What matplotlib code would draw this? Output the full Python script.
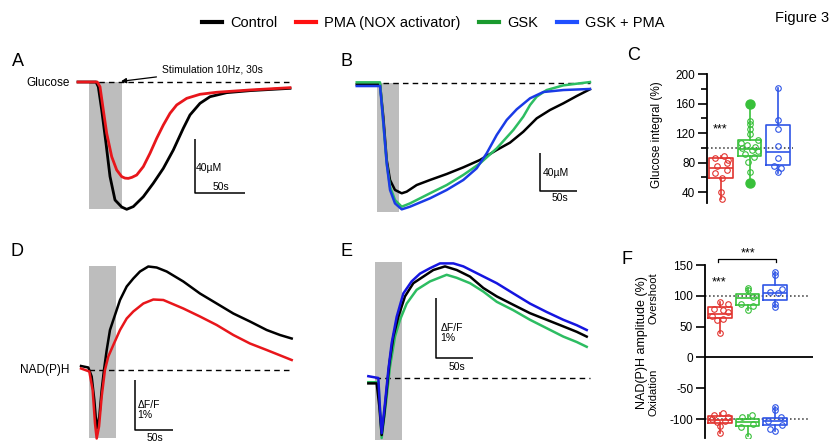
import matplotlib
matplotlib.use('Agg')
import matplotlib.pyplot as plt
from matplotlib.lines import Line2D
from matplotlib.patches import Rectangle

plt.rcParams['font.family'] = ['Liberation Sans', 'DejaVu Sans']
plt.rcParams['axes.unicode_minus'] = False

# ---- panel A: glucose traces (s, uM relative to baseline)
a_t_ctrl = [-11, 7, 9.3, 12.7, 17, 21, 26, 32.7, 37.7, 44.3, 54.3, 64.3, 74.3, 84.3, 94.3, 101, 111, 121, 137.7, 161, 201]
a_ctrl = [0, 0, -3.5, -20.7, -45.4, -70, -87.4, -92.6, -94.3, -92.3, -85, -75, -64, -50.4, -34.3, -24.4, -15.8, -10.9, -7.9, -6.4, -4.7]
a_t_pma = [-11, 8.3, 11, 14.3, 17.7, 22.7, 27.7, 32.7, 36, 39.3, 43, 47.7, 54.3, 61, 67.7, 74.3, 81, 87.7, 97.7, 111, 127.7, 161, 201]
a_pma = [0, 0, -3.5, -20.7, -38, -55.3, -65.2, -70.1, -71.2, -71.4, -70.6, -68.9, -62.7, -52.8, -41.7, -31.9, -23.2, -17, -12.1, -9.1, -7.6, -5.9, -4.2]

# ---- panel B
b_t_ctrl = [-27.4, 4.1, 8.5, 13.1, 17.6, 24.3, 33.4, 40.1, 53.6, 71.6, 94.2, 116.6, 139.2, 161.8, 179.7, 197.7, 215.8, 233.8, 251.8, 269.9, 287.8]
b_ctrl = [-1.4, -1.4, -35.5, -81, -102.1, -112.6, -116.1, -114.4, -107.4, -102.1, -95.8, -88.8, -81, -70.5, -62.8, -51.3, -37.2, -28.4, -21.4, -13.7, -6.6]
b_t_gsk = [-27.4, 4.1, 8.5, 13.1, 17.6, 24.3, 33.4, 44.6, 71.6, 94.2, 116.6, 139.2, 161.8, 184.2, 197.7, 206.8, 215.8, 229.3, 251.8, 287.8]
b_gsk = [0.7, 0.7, -42.4, -84.6, -109.1, -123.2, -130.2, -126.7, -116.1, -107.4, -96.8, -84.6, -68.8, -49.5, -35.4, -23.2, -14.4, -7.4, -2.5, 1]
b_t_both = [-27.4, 4.1, 8.5, 13.1, 17.6, 24.3, 33.4, 44.6, 71.6, 94.2, 116.6, 134.7, 148.2, 161.8, 175.3, 188.8, 206.8, 224.7, 251.8, 287.8]
b_both = [-3.2, -3.2, -40.7, -84.6, -112.6, -126.7, -133, -130.2, -121.4, -112.6, -102.1, -89.8, -74, -54.7, -38.9, -27.7, -16.1, -9.5, -7.4, -6.3]

# ---- panel D: NAD(P)H dF/F (%)
d_t_ctrl = [-10.5, -0.9, 3.5, 7, 10.1, 13.6, 16.7, 19.7, 23.3, 27.6, 34.2, 40.8, 49.6, 58.3, 67.1, 78, 89, 102.2, 124.1, 146, 168, 189.9, 211.8, 233.8, 251.3, 266.7]
d_ctrl = [0.08, 0.05, -0.13, -0.6, -1.17, -0.93, -0.4, 0, 0.4, 0.8, 1.1, 1.4, 1.67, 1.83, 1.97, 2.07, 2.05, 1.97, 1.77, 1.53, 1.33, 1.13, 0.97, 0.8, 0.7, 0.63]
d_t_pma = [-10.5, 0.4, 4.8, 7.9, 10.1, 13.2, 16.7, 21, 25.4, 32, 40.8, 49.6, 58.3, 71.5, 84.6, 97.8, 124.1, 146, 168, 189.9, 211.8, 233.8, 266.7]
d_pma = [0.03, -0.03, -0.4, -1.07, -1.37, -1.13, -0.53, 0, 0.27, 0.5, 0.8, 1.03, 1.17, 1.33, 1.41, 1.4, 1.23, 1.07, 0.9, 0.7, 0.53, 0.4, 0.2]

# ---- panel E
e_t_ctrl = [-9, 2.3, 5.9, 9, 12.2, 15.8, 19.4, 24.8, 31.5, 40.5, 51.8, 65.3, 78.8, 94.6, 110.4, 128.4, 146.4, 164.5, 186.9, 209.5, 232, 254.5, 272.6, 286.1]
e_ctrl = [-0.09, -0.09, -0.48, -0.95, -0.64, -0.2, 0.24, 0.69, 1.02, 1.36, 1.58, 1.69, 1.8, 1.86, 1.8, 1.69, 1.5, 1.36, 1.22, 1.08, 0.97, 0.86, 0.77, 0.69]
e_t_gsk = [-9, 4.5, 9, 15.8, 20.3, 27, 33.8, 42.8, 56.3, 74.3, 96.8, 110.4, 128.4, 146.4, 164.5, 186.9, 209.5, 232, 254.5, 272.6, 286.1]
e_gsk = [-0.07, -0.07, -1.0, -0.31, 0.19, 0.69, 0.97, 1.24, 1.47, 1.61, 1.72, 1.67, 1.58, 1.44, 1.27, 1.13, 0.97, 0.83, 0.69, 0.6, 0.52]
e_t_both = [-9, 4.5, 6.8, 9, 13.5, 18, 22.5, 29.3, 38.3, 49.5, 60.8, 74.3, 87.8, 105.9, 119.4, 141.9, 164.5, 186.9, 209.5, 232, 254.5, 272.6, 286.1]
e_both = [0.03, 0, -0.53, -0.92, -0.42, 0.13, 0.58, 1.02, 1.41, 1.61, 1.74, 1.83, 1.91, 1.91, 1.86, 1.72, 1.58, 1.41, 1.24, 1.1, 0.97, 0.88, 0.8]

# stimulation windows per panel (s)
stim = {'A': (0, 33), 'B': (0, 29.7), 'D': (0, 35.5), 'E': (0, 36.5)}

# ---- panel C: glucose integral (%), groups PMA / GSK / GSK+PMA
c_q1 = [59, 89, 76]
c_med = [73, 98, 94]
c_q3 = [85.5, 110, 130.5]
c_lo = [30, 52, 66]
c_hi = [89, 159, 181]
c_red_pts = [88.6, 85.5, 84, 79.5, 75.5, 70.5, 66, 59, 40, 30]
c_red_dx = [0.1, -0.2, 0.25, 0.2, -0.15, 0.2, -0.2, 0.05, 0.0, 0.05]
c_green_pts = [136, 132, 125, 118, 111, 107, 104, 101, 99, 97, 95, 92, 88, 81, 67]
c_green_dx = [0, 0, 0, 0, 0.3, -0.3, -0.1, 0.2, -0.25, 0.1, 0.3, -0.15, 0.15, -0.05, 0]
c_green_out = [159, 52]
c_blue_pts = [181, 138, 125, 102, 86, 75, 72, 67]
c_blue_dx = [0, 0, 0, 0, 0, -0.15, 0.1, 0]

# ---- panel F: NAD(P)H amplitude (%)
f_up_q1 = [64, 85, 94]
f_up_med = [71, 96, 105]
f_up_q3 = [82, 103, 118]
f_up_lo = [40, 77, 82]
f_up_hi = [90, 113, 139]
f_dn_q1 = [-106, -112, -110]
f_dn_med = [-101, -105, -104]
f_dn_q3 = [-95.6, -100, -98]
f_dn_lo = [-122, -127, -120]
f_dn_hi = [-91, -93, -81]
f_red_up = [90, 86, 79, 77, 74, 68, 63, 60, 40]
f_red_up_dx = [0, 0.3, -0.2, 0.1, 0.3, -0.3, 0.1, -0.1, 0]
f_green_up = [113, 109, 98, 87, 83, 77]
f_green_up_dx = [0, 0, 0.2, -0.25, 0.2, 0]
f_blue_up = [139, 134, 111, 106, 104, 87, 82]
f_blue_up_dx = [0, 0, 0.25, -0.2, 0.1, 0, 0]
f_red_dn = [-91, -93, -97, -100, -103, -105, -111, -122]
f_red_dn_dx = [0.1, -0.2, 0.3, -0.3, 0.2, -0.1, 0, 0]
f_green_dn = [-93, -97, -108, -113, -127]
f_green_dn_dx = [0.15, -0.2, 0.2, -0.25, 0]
f_blue_dn = [-81, -86, -97, -104, -109, -116, -120]
f_blue_dn_dx = [0, 0, 0.2, -0.25, 0.25, -0.2, 0]

W, H = 830, 444
fig = plt.figure(figsize=(W / 100, H / 100), dpi=100)

RED = '#e8161b'
GREEN_T = '#2dbd62'
BLUE_T = '#1a3be6'
GRAY = '#bdbdbd'
BRED, BGREEN, BBLUE = '#e2332f', '#38c03a', '#2f55e6'


def px_axes(left, top, right, bottom):
    return fig.add_axes([left / W, 1 - bottom / H, (right - left) / W, (bottom - top) / H])


def trace_axes(box, x0, y0, sx, sy):
    left, top, right, bottom = box
    ax = px_axes(*box)
    ax.set_xlim((left - x0) / sx, (right - x0) / sx)
    ax.set_ylim(-(bottom - y0) / sy, -(top - y0) / sy)
    ax.axis('off')
    return ax


def ftext(x, y, s, **kw):
    fig.text(x / W, 1 - y / H, s, **kw)


def scalebar(ax, x, y, dx, dy, ylab, ylab_xy, xlab_xy):
    ax.plot([x, x, x + dx], [y + dy, y, y], color='black', lw=1.1, solid_capstyle='butt')
    ax.text(*ylab_xy, ylab, fontsize=7.5, va='center', ha='left', linespacing=1.1)
    ax.text(*xlab_xy, '50s', fontsize=7.5, va='center', ha='center')


# ---------- A
axA = trace_axes((70, 60, 300, 215), 89, 82, 1.0, 1.35)
axA.add_patch(Rectangle((stim['A'][0], -94), stim['A'][1], 94, color=GRAY, lw=0))
axA.plot([0, 201], [0, 0], '--', color='black', lw=1, dashes=(4, 3))
axA.plot(a_t_ctrl, a_ctrl, color='black', lw=2)
axA.plot(a_t_pma, a_pma, color=RED, lw=2)
axA.annotate('Stimulation 10Hz, 30s', xy=(32, 0.5), xytext=(73, 8.9), fontsize=7.5, va='center',
             arrowprops=dict(arrowstyle='-|>', color='black', lw=0.9, shrinkA=2, shrinkB=0))
scalebar(axA, 106, -82.2, 50, 40, '40µM', (107, -63.5), (132, -77.5))

# ---------- B
axB = trace_axes((340, 60, 600, 220), 377, 83, 0.74, 0.95)
axB.add_patch(Rectangle((stim['B'][0], -135.8), stim['B'][1], 135.8, color=GRAY, lw=0))
axB.plot([8, 288], [0, 0], '--', color='black', lw=1, dashes=(4, 3))
axB.plot(b_t_ctrl, b_ctrl, color='black', lw=1.8)
axB.plot(b_t_gsk, b_gsk, color=GREEN_T, lw=1.8)
axB.plot(b_t_both, b_both, color=BLUE_T, lw=1.8)
scalebar(axB, 220.3, -113.7, 50, 40, '40µM', (223.5, -94.7), (247, -121.5))

# ---------- D
axD = trace_axes((70, 255, 300, 444), 89, 370, 0.76, 50)
axD.add_patch(Rectangle((stim['D'][0], -1.36), stim['D'][1], 3.44, color=GRAY, lw=0))
axD.plot([0, 267], [0, 0], '--', color='black', lw=1, dashes=(4, 3))
axD.plot(d_t_ctrl, d_ctrl, color='black', lw=1.8)
axD.plot(d_t_pma, d_pma, color=RED, lw=1.8)
scalebar(axD, 60.5, -1.2, 50, 1, 'ΔF/F\n1%', (64, -0.8), (87, -1.36))

# ---------- E
axE = trace_axes((340, 255, 600, 444), 375, 378, 0.74, 60)
axE.add_patch(Rectangle((stim['E'][0], -1.03), stim['E'][1], 2.96, color=GRAY, lw=0))
axE.plot([0, 290], [0, 0], '--', color='black', lw=1, dashes=(4, 3))
axE.plot(e_t_gsk, e_gsk, color=GREEN_T, lw=1.8)
axE.plot(e_t_ctrl, e_ctrl, color='black', lw=1.8)
axE.plot(e_t_both, e_both, color='#1515e0', lw=1.8)
scalebar(axE, 82.4, 0.33, 50, 1, 'ΔF/F\n1%', (88.5, 0.75), (110.4, 0.18))


# ---------- box helpers
def draw_box(ax, pos, q1, med, q3, lo, hi, color):
    st = [dict(med=med, q1=q1, q3=q3, whislo=lo, whishi=hi, fliers=[])]
    ax.bxp(st, positions=[pos], widths=0.84, showfliers=False, showcaps=False,
           boxprops=dict(color=color, lw=1.2), whiskerprops=dict(color=color, lw=1.2),
           medianprops=dict(color=color, lw=1.2), manage_ticks=False)


def draw_pts(ax, pos, vals, dx, color):
    ax.plot([pos + d for d in dx], vals, 'o', mfc='none', mec=color, ms=4, mew=0.8)


def style_axis(ax):
    for s in ['top', 'right', 'bottom']:
        ax.spines[s].set_visible(False)
    ax.spines['left'].set_linewidth(1.3)
    ax.tick_params(axis='y', which='major', length=6.5, width=1.2, labelsize=8.5, pad=2)
    ax.tick_params(axis='y', which='minor', length=4, width=1.2)
    ax.set_xticks([])


colors = [BRED, BGREEN, BBLUE]

# ---------- C
axC = px_axes(707, 74, 800, 203)
axC.set_xlim(0.51, 3.77)
axC.set_ylim(25.1, 200)
style_axis(axC)
axC.set_yticks([40, 80, 120, 160, 200])
axC.set_yticks([60, 100, 140, 180], minor=True)
axC.plot([0.51, 3.53], [100, 100], ':', color='#333333', lw=1.1)
for i in range(3):
    draw_box(axC, i + 1, c_q1[i], c_med[i], c_q3[i], c_lo[i], c_hi[i], colors[i])
draw_pts(axC, 1, c_red_pts, c_red_dx, BRED)
draw_pts(axC, 2, c_green_pts, c_green_dx, BGREEN)
axC.plot([2] * len(c_green_out), c_green_out, 'o', color=BGREEN, ms=6.5)
draw_pts(axC, 3, c_blue_pts, c_blue_dx, BBLUE)
axC.text(0.95, 125.4, '***', ha='center', va='center', fontsize=9)

# ---------- F
axF = px_axes(705, 265, 813, 438)
axF.set_xlim(0.455, 4.38)
axF.set_ylim(-130.8, 150)
style_axis(axF)
axF.set_yticks([-100, -50, 0, 50, 100, 150])
axF.axhline(0, color='black', lw=1.3)
axF.plot([0.455, 4.27], [100, 100], ':', color='#333333', lw=1.1)
axF.plot([0.455, 4.27], [-100, -100], ':', color='#333333', lw=1.1)
for i in range(3):
    draw_box(axF, i + 1, f_up_q1[i], f_up_med[i], f_up_q3[i], f_up_lo[i], f_up_hi[i], colors[i])
    draw_box(axF, i + 1, f_dn_q1[i], f_dn_med[i], f_dn_q3[i], f_dn_lo[i], f_dn_hi[i], colors[i])
draw_pts(axF, 1, f_red_up, f_red_up_dx, BRED)
draw_pts(axF, 2, f_green_up, f_green_up_dx, BGREEN)
draw_pts(axF, 3, f_blue_up, f_blue_up_dx, BBLUE)
draw_pts(axF, 1, f_red_dn, f_red_dn_dx, BRED)
draw_pts(axF, 2, f_green_dn, f_green_dn_dx, BGREEN)
draw_pts(axF, 3, f_blue_dn, f_blue_dn_dx, BBLUE)
axF.plot([0.93, 0.93, 3.04, 3.04], [155, 159.7, 159.7, 155], color='black', lw=0.9, clip_on=False)
axF.text(2.02, 169.5, '***', ha='center', va='center', fontsize=9, clip_on=False)
axF.text(0.96, 121, '***', ha='center', va='center', fontsize=9)

# ---------- labels
ftext(657, 135, 'Glucose integral (%)', rotation=90, ha='center', va='center', fontsize=8.5)
ftext(642, 343, 'NAD(P)H amplitude (%)', rotation=90, ha='center', va='center', fontsize=9)
ftext(653, 298, 'Overshoot', rotation=90, ha='center', va='center', fontsize=8)
ftext(653, 392, 'Oxidation', rotation=90, ha='center', va='center', fontsize=8)
ftext(70, 83, 'Glucose', ha='right', va='center', fontsize=8.5)
ftext(69, 370, 'NAD(P)H', ha='right', va='center', fontsize=8.5)

for lab, x, y in [('A', 12, 61), ('B', 340, 61), ('C', 627, 55), ('D', 10, 251), ('E', 340, 251), ('F', 621, 260)]:
    ftext(x, y, lab, fontsize=13, ha='left', va='center')

ftext(775, 18, 'Figure 3', fontsize=10.5, va='center', ha='left')

handles = [Line2D([], [], color=c, lw=3) for c in ['black', '#ff1010', '#1a9a2e', '#1f4fff']]
fig.legend(handles, ['Control', 'PMA (NOX activator)', 'GSK', 'GSK + PMA'], loc='center',
           bbox_to_anchor=(0.522, 1 - 23 / H), ncol=4, frameon=False, fontsize=10.5,
           handlelength=1.4, handletextpad=0.55, columnspacing=1.25)

fig.savefig('out.png', dpi=100)
